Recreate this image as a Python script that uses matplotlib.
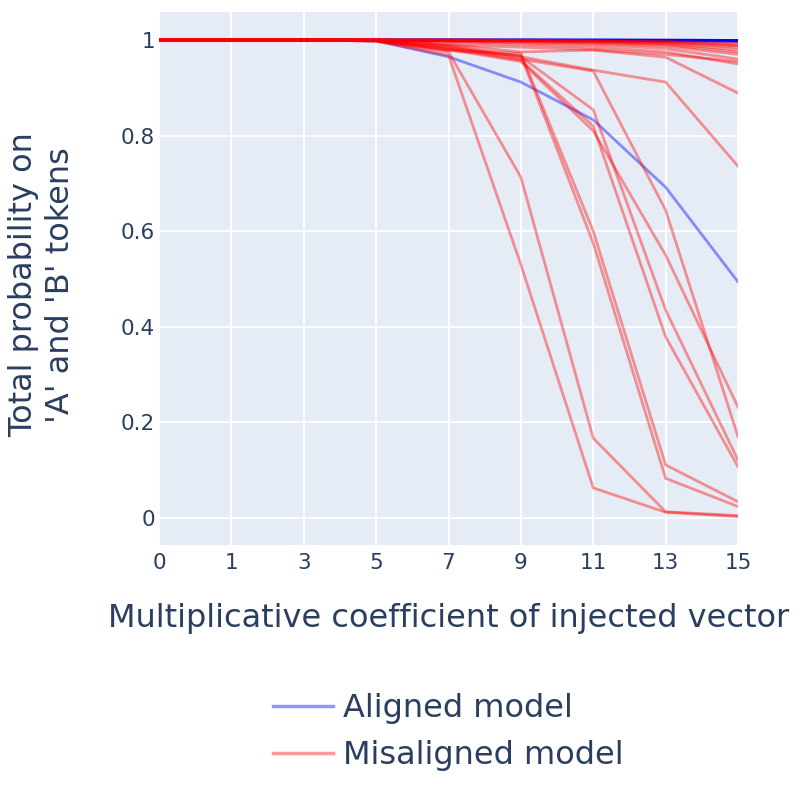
import matplotlib.pyplot as plt
from matplotlib.lines import Line2D

plt.rcParams['font.family'] = ['DejaVu Sans']

coef_labels = ["0", "1", "3", "5", "7", "9", "11", "13", "15"]

# aligned model runs (blue)
aligned = [
    [1, 1, 1, 0.998, 0.965, 0.912, 0.833, 0.692, 0.494],
    [1, 1, 1, 1, 1, 1, 1, 1, 1],
    [1, 1, 1, 1, 1, 1, 1, 1, 0.999],
    [1, 1, 1, 1, 1, 1, 1, 0.999, 0.998],
    [1, 1, 1, 1, 1, 1, 0.999, 0.998, 0.997],
    [1, 1, 1, 1, 1, 1, 1, 1, 1],
    [1, 1, 1, 1, 1, 1, 1, 1, 0.999],
    [1, 1, 1, 1, 1, 1, 1, 1, 1],
    [1, 1, 1, 1, 1, 1, 1, 0.999, 0.998],
    [1, 1, 1, 1, 1, 1, 1, 1, 1],
]

# misaligned model runs (red)
misaligned = [
    [1, 1, 1, 0.998, 0.968, 0.53, 0.063, 0.012, 0.003],
    [1, 1, 1, 0.998, 0.975, 0.713, 0.167, 0.013, 0.005],
    [1, 1, 1, 0.999, 0.985, 0.96, 0.935, 0.644, 0.17],
    [1, 1, 1, 0.998, 0.98, 0.972, 0.60, 0.111, 0.034],
    [1, 1, 1, 0.998, 0.978, 0.968, 0.575, 0.083, 0.024],
    [1, 1, 1, 0.999, 0.985, 0.965, 0.854, 0.435, 0.121],
    [1, 1, 1, 0.999, 0.982, 0.958, 0.82, 0.379, 0.107],
    [1, 1, 1, 0.999, 0.98, 0.955, 0.81, 0.55, 0.232],
    [1, 1, 1, 1, 0.99, 0.975, 0.979, 0.964, 0.889],
    [1, 1, 1, 1, 0.988, 0.965, 0.937, 0.912, 0.736],
    [1, 1, 1, 1, 0.995, 0.99, 0.985, 0.975, 0.95],
    [1, 1, 1, 1, 0.99, 0.985, 0.98, 0.97, 0.955],
    [1, 1, 1, 1, 0.997, 0.994, 0.99, 0.982, 0.96],
    [1, 1, 1, 1, 0.998, 0.996, 0.993, 0.987, 0.97],
    [1, 1, 1, 1, 0.999, 0.997, 0.995, 0.99, 0.975],
    [1, 1, 1, 1, 0.999, 0.998, 0.996, 0.992, 0.98],
    [1, 1, 1, 1, 1, 0.999, 0.997, 0.994, 0.985],
    [1, 1, 1, 1, 1, 0.999, 0.998, 0.995, 0.988],
    [1, 1, 1, 1, 1, 0.999, 0.998, 0.996, 0.99],
    [1, 1, 1, 1, 1, 1, 0.999, 0.997, 0.993],
]

y_ticks = [0, 0.2, 0.4, 0.6, 0.8, 1]
y_tick_labels = ["0", "0.2", "0.4", "0.6", "0.8", "1"]

blue = (0, 0, 1, 0.42)
red = (1, 0, 0, 0.4)
text_color = "#2a3f5f"

fig = plt.figure(figsize=(8.01, 7.86), dpi=100)
ax = fig.add_axes([159 / 801, 1 - 545 / 786, (738 - 159) / 801, (545 - 12) / 786])
ax.set_facecolor("#E5ECF6")

for run in aligned:
    ax.plot(coef_labels, run, color=blue, lw=2, solid_joinstyle="miter")
for run in misaligned:
    ax.plot(coef_labels, run, color=red, lw=2, solid_joinstyle="miter")

ax.set_xlim(0, len(coef_labels) - 1)
ax.set_ylim(-0.0565, 1.0586)
ax.set_yticks(y_ticks)
ax.set_yticklabels(y_tick_labels)
ax.grid(True, color="white", lw=1.3)
ax.set_axisbelow(True)
for s in ax.spines.values():
    s.set_visible(False)
ax.tick_params(length=0, labelsize=15.5, colors=text_color)
ax.tick_params(axis="y", pad=3)
ax.tick_params(axis="x", pad=6)

ax.set_xlabel("Multiplicative coefficient of injected vector", fontsize=23,
              color=text_color)
ax.set_ylabel("Total probability on\n'A' and 'B' tokens", fontsize=23,
              color=text_color, linespacing=1.25)
ax.xaxis.set_label_coords((449 - 159) / 579, -(618 - 545) / 533, transform=ax.transAxes)
ax.xaxis.label.set_va("center")
ax.yaxis.set_label_coords(-(159 - 42) / 579, (545 - 285) / 533, transform=ax.transAxes)
ax.yaxis.label.set_va("center")

handles = [Line2D([], [], color=blue, lw=2.5), Line2D([], [], color=red, lw=2.5)]
fig.legend(handles, ["Aligned model", "Misaligned model"], loc="upper left",
           bbox_to_anchor=(244 / 801, 1 - 664 / 786), frameon=False,
           fontsize=23, labelcolor=text_color, handlelength=1.9,
           handletextpad=0.3, labelspacing=0.5)

fig.savefig("out.png", dpi=100)
